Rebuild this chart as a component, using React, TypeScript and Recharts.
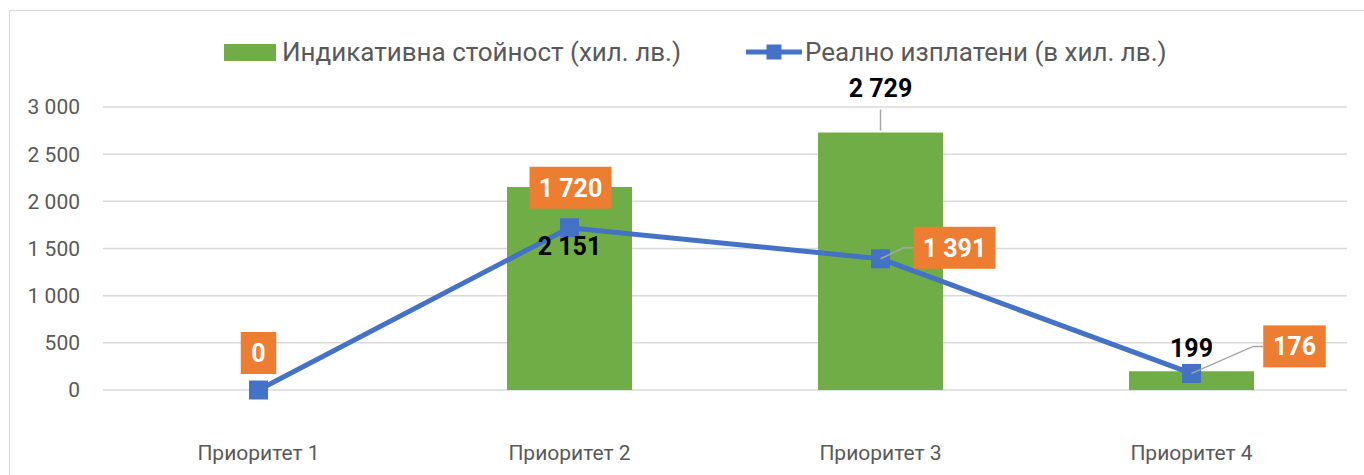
import React from 'react';
import {
  Bar,
  CartesianGrid,
  ComposedChart,
  LabelList,
  Legend,
  Line,
  XAxis,
  YAxis,
} from 'recharts';

const categories = ['Приоритет 1', 'Приоритет 2', 'Приоритет 3', 'Приоритет 4'];
const indicative = [null, 2151, 2729, 199];
const paid = [0, 1720, 1391, 176];
const yTicks = [0, 500, 1000, 1500, 2000, 2500, 3000];

const BAR_NAME = 'Индикативна стойност (хил. лв.)';
const LINE_NAME = 'Реално изплатени (в хил. лв.)';

const GREEN = '#70AD47';
const BLUE = '#4472C4';
const ORANGE = '#ED7D31';
const FONT = 'Roboto, "Noto Sans", sans-serif';

const data = categories.map((name, i) => ({
  name,
  indicative: indicative[i],
  paid: paid[i],
}));

const fmt = (v: number) => String(v).replace(/\B(?=(\d{3})+(?!\d))/g, ' ');

// hand placed label positions, as in the source chart
const paidLabelPos = [
  { dx: 0, dy: -37, lead: false },
  { dx: 1, dy: -40, lead: false },
  { dx: 74, dy: -11, lead: true },
  { dx: 103, dy: -27, lead: true },
];
const barLabelPos = [null, { dy: 59, lead: false }, { dy: -45, lead: true }, { dy: -23, lead: false }];

const textWidth = (s: string) =>
  s.split('').reduce((w, c) => w + (c === ' ' ? 6 : 13.5), 0);

const PaidLabel = (props: any) => {
  const { x, y, value, index } = props;
  const pos = paidLabelPos[index];
  if (!pos || value == null) return null;
  const text = fmt(value);
  const w = textWidth(text) + 22;
  const h = 42;
  const cx = x + pos.dx;
  const cy = y + pos.dy;
  const left = cx - w / 2;
  return (
    <g>
      {pos.lead && (
        <polyline
          points={`${x},${y} ${left - 10},${cy} ${left},${cy}`}
          fill="none"
          stroke="#a6a6a6"
          strokeWidth={1.5}
        />
      )}
      <rect x={left} y={cy - h / 2} width={w} height={h} fill={ORANGE} />
      <text
        x={cx}
        y={cy}
        dy="0.36em"
        textAnchor="middle"
        fill="#fff"
        fontWeight="bold"
        fontSize={25}
        fontFamily={FONT}
      >
        {text}
      </text>
    </g>
  );
};

const BarValueLabel = (props: any) => {
  const { x, y, value, index } = props;
  const pos = barLabelPos[index];
  if (!pos || value == null) return null;
  const cy = y + pos.dy;
  return (
    <g>
      {pos.lead && <line x1={x} y1={cy + 22} x2={x} y2={y - 2} stroke="#a6a6a6" strokeWidth={1.5} />}
      <text
        x={x}
        y={cy}
        dy="0.36em"
        textAnchor="middle"
        fill="#000"
        fontWeight="bold"
        fontSize={25}
        fontFamily={FONT}
      >
        {fmt(value)}
      </text>
    </g>
  );
};

const SquareDot = (props: any) => {
  const { cx, cy, index } = props;
  if (cx == null || cy == null) return <g key={index} />;
  return <rect key={index} x={cx - 9.5} y={cy - 9.5} width={19} height={19} fill={BLUE} />;
};

const renderLegend = () => (
  <div style={{ position: 'relative', height: 40, fontFamily: FONT, fontSize: 26, color: '#595959' }}>
    <div style={{ position: 'absolute', left: 224, top: 0, display: 'flex', alignItems: 'center', height: 40 }}>
      <span style={{ width: 52, height: 17, background: GREEN, display: 'inline-block', marginRight: 6 }} />
      <span>{BAR_NAME}</span>
    </div>
    <div style={{ position: 'absolute', left: 746, top: 0, display: 'flex', alignItems: 'center', height: 40 }}>
      <svg width={56} height={20} style={{ marginRight: 3 }}>
        <line x1={0} y1={10} x2={56} y2={10} stroke={BLUE} strokeWidth={5} />
        <rect x={20.5} y={2.5} width={15} height={15} fill={BLUE} />
      </svg>
      <span>{LINE_NAME}</span>
    </div>
  </div>
);

export default function App() {
  return (
    <div style={{ position: 'absolute', left: 0, top: 0, width: 1364, height: 475, background: '#fff', overflow: 'hidden' }}>
      <div
        style={{
          position: 'absolute',
          left: 9,
          top: 10,
          width: 1400,
          height: 500,
          border: '1.5px solid #d9d9d9',
        }}
      />
      <ComposedChart
        width={1364}
        height={475}
        data={data}
        margin={{ top: 67, right: 17, bottom: 0, left: 0 }}
        style={{ position: 'absolute', left: 0, top: 0 }}
      >
        <CartesianGrid vertical={false} stroke="#d9d9d9" strokeWidth={1.5} />
        <XAxis
          dataKey="name"
          height={85}
          axisLine={false}
          tickLine={false}
          tickMargin={49}
          tick={{ fill: '#595959', fontSize: 21, fontFamily: FONT }}
        />
        <YAxis
          width={103}
          domain={[0, 3000]}
          ticks={yTicks}
          axisLine={false}
          tickLine={false}
          tickMargin={17}
          tickFormatter={fmt}
          tick={{ fill: '#595959', fontSize: 21, fontFamily: FONT }}
        />
        <Legend verticalAlign="top" content={renderLegend} wrapperStyle={{ top: 32, left: 0, width: 1364, height: 40 }} />
        <Bar dataKey="indicative" name={BAR_NAME} fill={GREEN} barSize={125} isAnimationActive={false} />
        <Line
          dataKey="paid"
          name={LINE_NAME}
          stroke={BLUE}
          strokeWidth={5}
          dot={SquareDot}
          activeDot={false}
          isAnimationActive={false}
        />
        <Line
          dataKey="indicative"
          stroke="none"
          dot={false}
          activeDot={false}
          legendType="none"
          isAnimationActive={false}
        >
          <LabelList dataKey="indicative" content={BarValueLabel} />
        </Line>
        <Line dataKey="paid" stroke="none" dot={false} activeDot={false} legendType="none" isAnimationActive={false}>
          <LabelList dataKey="paid" content={PaidLabel} />
        </Line>
      </ComposedChart>
    </div>
  );
}
